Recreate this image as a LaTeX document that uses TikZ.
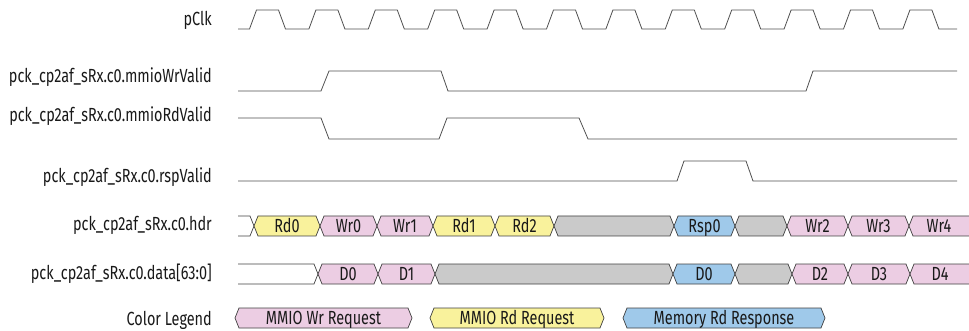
\documentclass[tikz,border=0pt]{standalone}
\usepackage{fontspec}
\setmainfont{Fira Sans}[FakeStretch=0.76]
\usepackage{tikz}

\definecolor{wrpink}{HTML}{ECCDE3}
\definecolor{rdyellow}{HTML}{F9F29C}
\definecolor{rspblue}{HTML}{9FC9EA}
\definecolor{idlegray}{HTML}{CACACA}
\definecolor{wavegray}{HTML}{505050}

\newcommand{\busshape}[4]{%
	\filldraw[bus, fill=#4] (#1,#3) -- (#1+4,#3-10) -- (#2-4,#3-10) -- (#2,#3) -- (#2-4,#3+10) -- (#1+4,#3+10) -- cycle;}
\newcommand{\busseg}[6]{%
	\busshape{#2}{#3}{#4}{#5}
	\node[bustext] (#1) at ({(#2+#3)/2},#4+6.5) {#6};}

\begin{document}
\begin{tikzpicture}[x=1pt, y=-1pt,
	wave/.style={draw=wavegray, line width=0.8pt},
	bus/.style={draw=black!75, line width=0.7pt},
	bustext/.style={anchor=base, inner sep=0pt, font=\fontsize{19}{20}\selectfont, text=black!90},
	lbl/.style={anchor=base east, inner sep=0pt, font=\fontsize{19}{20}\selectfont, text=black!90}]
							\useasboundingbox (0,0) rectangle (969,331);
							
							\node[lbl] (clk) at (212,26) {pClk};
							\node[lbl] (wrvalid) at (212,83) {pck\_cp2af\_sRx.c0.mmioWrValid};
							\node[lbl] (rdvalid) at (212,122) {pck\_cp2af\_sRx.c0.mmioRdValid};
							\node[lbl] (rspvalid) at (212,183) {pck\_cp2af\_sRx.c0.rspValid};
							\node[lbl] (hdr) at (212,231) {pck\_cp2af\_sRx.c0.hdr};
							\node[lbl] (data) at (212,279) {pck\_cp2af\_sRx.c0.data[63:0]};
							\node[lbl] (legend) at (212,325) {Color Legend};
							
							\draw[wave] (238,29) -- (249.5,29)
								-- ++(7,-19) -- ++(22,0) -- ++(7,19) -- ++(23.4,0)
								-- ++(7,-19) -- ++(22,0) -- ++(7,19) -- ++(23.4,0)
								-- ++(7,-19) -- ++(22,0) -- ++(7,19) -- ++(23.4,0)
								-- ++(7,-19) -- ++(22,0) -- ++(7,19) -- ++(23.4,0)
								-- ++(7,-19) -- ++(22,0) -- ++(7,19) -- ++(23.4,0)
								-- ++(7,-19) -- ++(22,0) -- ++(7,19) -- ++(23.4,0)
								-- ++(7,-19) -- ++(22,0) -- ++(7,19) -- ++(23.4,0)
								-- ++(7,-19) -- ++(22,0) -- ++(7,19) -- ++(23.4,0)
								-- ++(7,-19) -- ++(22,0) -- ++(7,19) -- ++(23.4,0)
								-- ++(7,-19) -- ++(22,0) -- ++(7,19) -- ++(23.4,0)
								-- ++(7,-19) -- ++(22,0) -- ++(7,19) -- ++(23.4,0)
								-- ++(7,-19) -- ++(22,0) -- ++(7,19) -- (957,29);
							
							\draw[wave] (238,91) -- (321,91) -- (329,71) -- (441,71) -- (448,91) -- (806,91) -- (813,71) -- (957,71);
							\draw[wave] (238,118) -- (321,118) -- (329,139) -- (439,139) -- (447,118) -- (579,118) -- (588,139) -- (957,139);
							\draw[wave] (238,181) -- (677,181) -- (684,161) -- (746,161) -- (753,181) -- (957,181);
							
							\draw[bus] (238,216) -- (250,216) -- (254,226) -- (250,236) -- (238,236);
							\busseg{hrd0}{254}{320}{226}{rdyellow}{Rd0}
							\busseg{hwr0}{320}{377}{226}{wrpink}{Wr0}
							\busseg{hwr1}{377}{433}{226}{wrpink}{Wr1}
							\busseg{hrd1}{433}{495}{226}{rdyellow}{Rd1}
							\busseg{hrd2}{495}{554}{226}{rdyellow}{Rd2}
							\busshape{554}{674}{226}{idlegray}
							\busseg{hrsp0}{674}{735}{226}{rspblue}{Rsp0}
							\busshape{735}{787}{226}{idlegray}
							\busseg{hwr2}{787}{848}{226}{wrpink}{Wr2}
							\busseg{hwr3}{848}{909}{226}{wrpink}{Wr3}
							\busshape{909}{990}{226}{wrpink}
							\node[bustext] (hwr4) at (939,232.5) {Wr4};
							
							\draw[bus] (238,264) -- (314,264) -- (318,274) -- (314,284) -- (238,284);
							\busseg{dd0}{318}{378}{274}{wrpink}{D0}
							\busseg{dd1}{378}{435}{274}{wrpink}{D1}
							\busshape{435}{673}{274}{idlegray}
							\busseg{drsp0}{673}{735}{274}{rspblue}{D0}
							\busshape{735}{792}{274}{idlegray}
							\busseg{dd2}{792}{848}{274}{wrpink}{D2}
							\busseg{dd3}{848}{910}{274}{wrpink}{D3}
							\busshape{910}{990}{274}{wrpink}
							\node[bustext] (dd4) at (940,280.5) {D4};
							
							\busseg{keywr}{235}{412}{318}{wrpink}{MMIO Wr Request}
							\busseg{keyrd}{430}{604}{318}{rdyellow}{MMIO Rd Request}
							\busseg{keyrsp}{623}{825}{318}{rspblue}{Memory Rd Response}
						\end{tikzpicture}
\end{document}
